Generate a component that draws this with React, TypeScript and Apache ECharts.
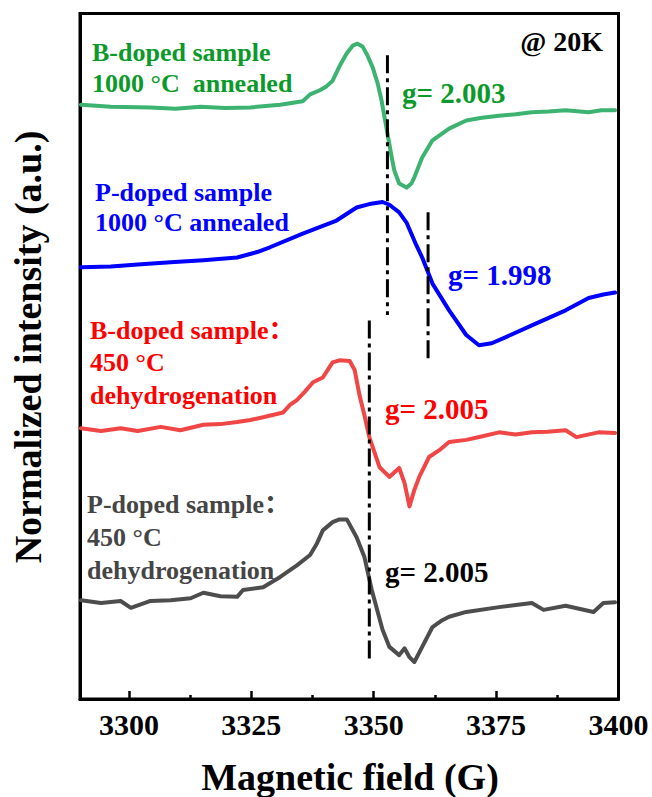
import React, { useEffect, useRef } from "react";
import * as echarts from "echarts";

// Magnetic field (G) and normalized intensity (a.u., offset stacked)
const fieldB1000 = [3290.2, 3296.3, 3304.4, 3309.5, 3314.6, 3319.7, 3324.8, 3330.9, 3335.5, 3337.0, 3339.0, 3340.4, 3341.6, 3343.0, 3344.5, 3345.7, 3346.7, 3347.7, 3348.7, 3349.8, 3350.8, 3351.6, 3352.8, 3353.6, 3354.2, 3355.2, 3356.7, 3357.7, 3358.3, 3359.9, 3362.0, 3365.4, 3368.9, 3372.1, 3375.6, 3379.0, 3382.3, 3385.7, 3389.2, 3393.9, 3396.5, 3399.3];
const intensB1000 = [8.67, 8.64, 8.63, 8.61, 8.64, 8.62, 8.63, 8.67, 8.72, 8.82, 8.88, 8.94, 9.02, 9.23, 9.42, 9.53, 9.56, 9.52, 9.39, 9.21, 8.98, 8.73, 8.25, 7.93, 7.71, 7.52, 7.46, 7.52, 7.61, 7.90, 8.15, 8.32, 8.44, 8.48, 8.51, 8.53, 8.56, 8.57, 8.59, 8.56, 8.59, 8.59];

const fieldP1000 = [3290.2, 3296.3, 3301.8, 3308.5, 3315.2, 3322.1, 3326.2, 3328.8, 3335.5, 3342.4, 3346.5, 3349.1, 3351.8, 3353.2, 3355.2, 3356.7, 3358.7, 3359.9, 3362.0, 3365.4, 3368.9, 3371.5, 3374.1, 3377.0, 3382.3, 3389.2, 3393.9, 3396.9, 3399.3];
const intensP1000 = [6.30, 6.31, 6.34, 6.37, 6.40, 6.44, 6.52, 6.59, 6.79, 6.98, 7.17, 7.22, 7.25, 7.21, 7.10, 6.95, 6.62, 6.44, 6.06, 5.67, 5.31, 5.16, 5.19, 5.28, 5.45, 5.67, 5.85, 5.90, 5.93];

const fieldB450 = [3290.2, 3294.3, 3298.3, 3301.8, 3306.5, 3310.5, 3315.2, 3318.7, 3322.1, 3324.8, 3327.4, 3331.5, 3332.9, 3334.3, 3335.9, 3337.6, 3339.6, 3341.6, 3343.0, 3345.1, 3346.1, 3347.1, 3348.1, 3349.1, 3351.2, 3353.2, 3355.2, 3356.3, 3357.3, 3358.3, 3359.3, 3361.3, 3363.4, 3365.4, 3368.9, 3372.0, 3375.6, 3379.0, 3382.3, 3385.5, 3389.2, 3391.4, 3395.9, 3399.3];
const intensB450 = [3.95, 3.91, 3.95, 3.91, 3.97, 3.92, 4.00, 4.01, 4.04, 4.07, 4.11, 4.18, 4.29, 4.36, 4.48, 4.62, 4.69, 4.91, 4.94, 4.93, 4.80, 4.43, 4.14, 3.82, 3.38, 3.24, 3.37, 3.15, 2.81, 3.05, 3.24, 3.53, 3.63, 3.75, 3.78, 3.83, 3.89, 3.86, 3.89, 3.90, 3.92, 3.82, 3.89, 3.88];

const fieldP450 = [3290.2, 3294.3, 3298.3, 3300.4, 3304.4, 3308.5, 3312.6, 3315.2, 3318.7, 3322.1, 3323.3, 3327.4, 3330.9, 3334.3, 3337.0, 3338.4, 3339.6, 3341.6, 3343.0, 3344.5, 3346.5, 3348.1, 3349.6, 3351.8, 3353.2, 3355.2, 3356.3, 3357.3, 3358.3, 3359.9, 3362.0, 3364.0, 3365.4, 3368.9, 3375.6, 3382.3, 3384.7, 3389.2, 3394.9, 3396.9, 3399.3];
const intensP450 = [1.44, 1.40, 1.43, 1.33, 1.43, 1.44, 1.47, 1.55, 1.50, 1.49, 1.59, 1.63, 1.78, 1.95, 2.10, 2.27, 2.46, 2.58, 2.62, 2.62, 2.36, 2.07, 1.59, 1.01, 0.76, 0.64, 0.74, 0.61, 0.54, 0.76, 1.05, 1.15, 1.20, 1.27, 1.34, 1.40, 1.30, 1.36, 1.27, 1.40, 1.41];

// g-factor marker lines: field position and vertical extent
const markerFields = [3352.8, 3361.1, 3349.1];
const markerTops = [9.39, 7.10, 5.52];
const markerBottoms = [5.60, 4.94, 0.57];

const xTickValues = [3300, 3325, 3350, 3375, 3400];
const xMinorTickValues = [3312.5, 3337.5, 3362.5, 3387.5];

const FONT = '"Liberation Serif", "Times New Roman", "Noto Sans CJK SC", serif';

function zip(xs: number[], ys: number[]) {
  return xs.map((x, i) => [x, ys[i]]);
}

function label(text: string, x: number, y: number, fill: string, size: number, align = "left", rotation = 0) {
  return {
    type: "text",
    x,
    y,
    rotation,
    z: 100,
    style: {
      text,
      fill,
      font: `bold ${size}px ${FONT}`,
      fontSize: size,
      fontWeight: "bold",
      fontFamily: FONT,
      textAlign: align,
      textVerticalAlign: "middle",
      align,
      verticalAlign: "middle",
    },
  };
}

export default function App() {
  const ref = useRef<HTMLDivElement>(null);
  useEffect(() => {
    if (!ref.current) return;
    const chart = echarts.init(ref.current, undefined, { renderer: "svg" });
    const lineSeries = (name: string, data: number[][], color: string) => ({
      name,
      type: "line",
      data,
      showSymbol: false,
      symbol: "none",
      lineStyle: { color, width: 4, join: "round", cap: "round" },
      z: 2,
    });
    const markers = markerFields.map((f, i) => ({
      type: "line",
      data: [
        [f, markerTops[i]],
        [f, markerBottoms[i]],
      ],
      symbol: "none",
      lineStyle: { color: "#000", width: 3, type: [18, 5, 4, 5] },
      z: 5,
    }));
    chart.setOption({
      animation: false,
      grid: {
        left: 80,
        right: 33.5,
        top: 13.5,
        bottom: 98,
        outerBoundsMode: "none",
        containLabel: false,
        show: true,
        borderColor: "#000",
        borderWidth: 3,
        backgroundColor: "transparent",
      },
      xAxis: [
        {
          type: "value",
          min: 3290,
          max: 3400,
          position: "bottom",
          axisLine: { show: true, lineStyle: { color: "#000", width: 3 } },
          axisTick: {
            show: true,
            inside: true,
            length: 8,
            lineStyle: { color: "#000", width: 2.5 },
            customValues: xTickValues,
          },
          axisLabel: {
            show: true,
            customValues: xTickValues,
            formatter: (v: number) => String(v),
            color: "#000",
            fontSize: 30,
            fontWeight: "bold",
            fontFamily: FONT,
            margin: 10,
          },
          splitLine: { show: false },
        },
        {
          type: "value",
          min: 3290,
          max: 3400,
          position: "bottom",
          axisLine: { show: false },
          axisTick: {
            show: true,
            inside: true,
            length: 4,
            lineStyle: { color: "#000", width: 2.5 },
            customValues: xMinorTickValues,
          },
          axisLabel: { show: false },
          splitLine: { show: false },
        },
      ],
      yAxis: {
        type: "value",
        min: 0,
        max: 10,
        axisLine: { show: true, lineStyle: { color: "#000", width: 3 } },
        axisTick: { show: false },
        axisLabel: { show: false },
        splitLine: { show: false },
      },
      series: [
        lineSeries("B-doped 1000 °C annealed", zip(fieldB1000, intensB1000), "#3cb371"),
        lineSeries("P-doped 1000 °C annealed", zip(fieldP1000, intensP1000), "#0000ff"),
        lineSeries("B-doped 450 °C dehydrogenation", zip(fieldB450, intensB450), "#f04646"),
        lineSeries("P-doped 450 °C dehydrogenation", zip(fieldP450, intensP450), "#4d4d4d"),
        ...markers,
      ],
      graphic: [
        label("B-doped sample", 92, 52, "#0b9a2a", 26),
        label("1000 °C  annealed", 92, 83, "#0b9a2a", 26),
        label("P-doped sample", 95, 192, "#0000ff", 26),
        label("1000 °C annealed", 95, 222, "#0000ff", 26),
        label("B-doped sample：", 90, 330, "#ff0000", 26),
        label("450 °C", 90, 362, "#ff0000", 26),
        label("dehydrogenation", 90, 395, "#ff0000", 26),
        label("P-doped sample：", 87, 504, "#454545", 26),
        label("450 °C", 87, 537, "#454545", 26),
        label("dehydrogenation", 87, 570, "#454545", 26),
        label("g= 2.003", 402, 93, "#0b9a2a", 29),
        label("g= 1.998", 448, 275, "#0000ff", 29),
        label("g= 2.005", 385, 409, "#ff0000", 29),
        label("g= 2.005", 385, 572, "#000000", 29),
        label("@ 20K", 603, 41, "#000000", 28, "right"),
        label("Magnetic field (G)", 350, 777, "#000000", 38, "center"),
        label("Normalized intensity (a.u.)", 28, 347, "#000000", 38, "center", Math.PI / 2),
      ],
    });
    return () => chart.dispose();
  }, []);
  return (
    <div
      ref={ref}
      style={{ position: "absolute", left: 0, top: 0, width: 652, height: 797, background: "#fff" }}
    />
  );
}
